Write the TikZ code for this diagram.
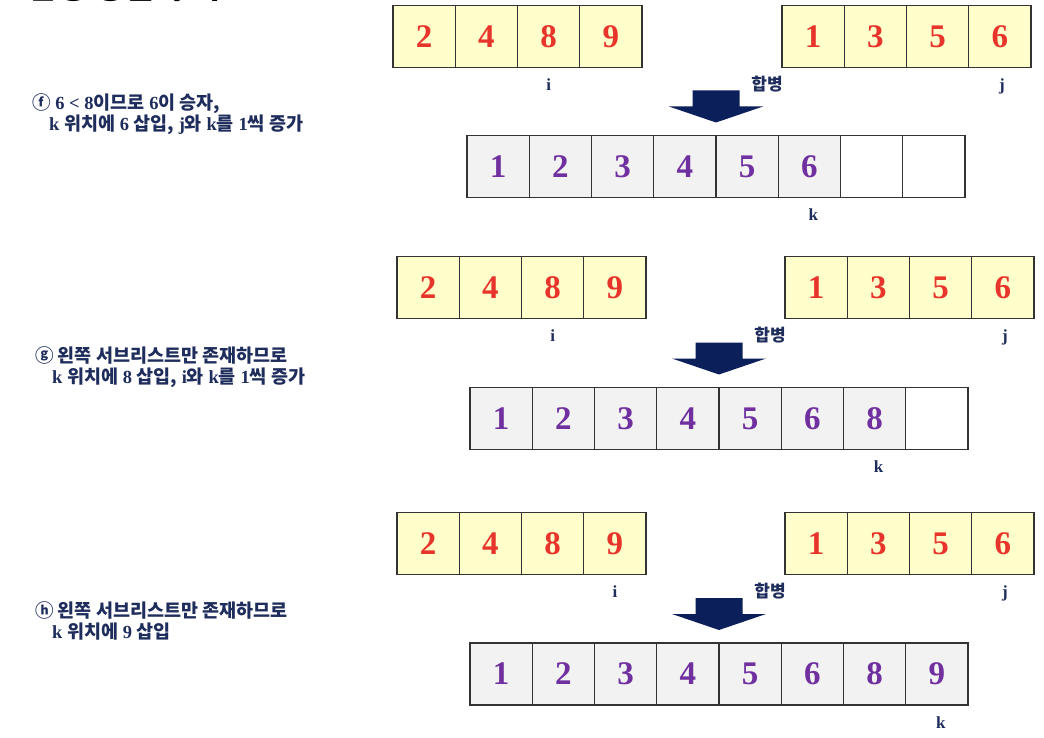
\documentclass[tikz,border=0pt]{standalone}
\usepackage{fontspec}
\setmainfont{Liberation Serif}
\newfontfamily\krfont{Noto Sans CJK KR}
\usetikzlibrary{positioning}
\definecolor{mnavy}{HTML}{1F2D5C}
\definecolor{marrow}{HTML}{0B1F5B}
\definecolor{mred}{HTML}{E8352B}
\definecolor{mpurple}{HTML}{7030A0}
\definecolor{mlightyellow}{HTML}{FFFFCC}
\definecolor{mlightgray}{HTML}{F2F2F2}
\tikzset{
  cellbase/.style={draw=black!80, line width=1.2pt, minimum width=62.25pt,
                   minimum height=62pt, inner sep=0pt, outer sep=0pt,
                   font=\bfseries\fontsize{33}{33}\selectfont},
  incell/.style={cellbase, fill=mlightyellow, text=mred},
  outcell/.style={cellbase, fill=mlightgray, text=mpurple},
  emptycell/.style={cellbase, fill=white},
  idxlabel/.style={font=\bfseries\fontsize{17}{17}\selectfont, text=mnavy,
                   inner sep=0pt, text height=11pt, text depth=0pt},
  steptext/.style={font=\bfseries\fontsize{18.5}{21.5}\selectfont, text=mnavy,
                   align=left, anchor=north west, inner sep=0pt},
  mergearrow/.style={fill=marrow, draw=none},
}

\begin{document}
\begin{tikzpicture}[x=1pt, y=-1pt]
  \useasboundingbox (0,0) rectangle (1044,738);

  % title, cut by the page edge
  \node[anchor=base west, font=\krfont\bfseries\fontsize{32}{32}\selectfont]
    (title) at (25,-1.5) {합병 정렬의 예};

  % one merge step per panel: name / left x / right x / merged x / y / merged y / i / k
  \foreach \p/\lx/\rx/\mx/\ty/\my/\ii/\kk in
      {f/393/782/467/36.5/166.5/3/6, g/397/785/470/287.5/418.5/3/7,
       h/397/785/470/543.5/674/4/8}{
    \foreach \v [count=\c] in {2,4,8,9}
      \node[incell] (\p l\c) at (\lx+62.25*\c-31.125, \ty) {\v};
    \foreach \v [count=\c] in {1,3,5,6}
      \node[incell] (\p r\c) at (\rx+62.25*\c-31.125, \ty) {\v};
    \foreach \v [count=\c] in {1,2,3,4,5,6,8,9}{
      \ifnum\c>\kk
        \node[emptycell] (\p m\c) at (\mx+62.25*\c-31.125, \my) {};
      \else
        \node[outcell] (\p m\c) at (\mx+62.25*\c-31.125, \my) {\v};
      \fi
    }

    \node[idxlabel, below=12pt of \p l\ii] (\p i) {i};
    \node[idxlabel, below=12pt of \p r4, xshift=2pt] (\p j) {j};
    \node[idxlabel, below=12pt of \p m\kk, xshift=4pt] (\p k) {k};
    \node[idxlabel, font=\krfont\bfseries\fontsize{17}{17}\selectfont,
          below=12pt of \p r1.south west, xshift=-15pt] (\p merge) {합병};

    \coordinate[above=13pt of \p m4.north east] (\p tip);
    \fill[mergearrow] (\p tip) -- ++(-47,-16) -- ++(23.5,0) -- ++(0,-16)
      -- ++(47,0) -- ++(0,16) -- ++(23.5,0) -- cycle;
  }

  % step descriptions
  \node[steptext] (ftext) at (32,93)
    {{\krfont ⓕ} 6 < 8{\krfont 이므로} 6{\krfont 이 승자,}\\
     \hspace*{17pt}k {\krfont 위치에} 6 {\krfont 삽입,} j{\krfont 와}
     k{\krfont 를} 1{\krfont 씩 증가}};
  \node[steptext] (gtext) at (35,346)
    {{\krfont ⓖ 왼쪽 서브리스트만 존재하므로}\\
     \hspace*{17pt}k {\krfont 위치에} 8 {\krfont 삽입,} i{\krfont 와}
     k{\krfont 를} 1{\krfont 씩 증가}};
  \node[steptext] (htext) at (35,601)
    {{\krfont ⓗ 왼쪽 서브리스트만 존재하므로}\\
     \hspace*{17pt}k {\krfont 위치에} 9 {\krfont 삽입}};
\end{tikzpicture}
\end{document}
